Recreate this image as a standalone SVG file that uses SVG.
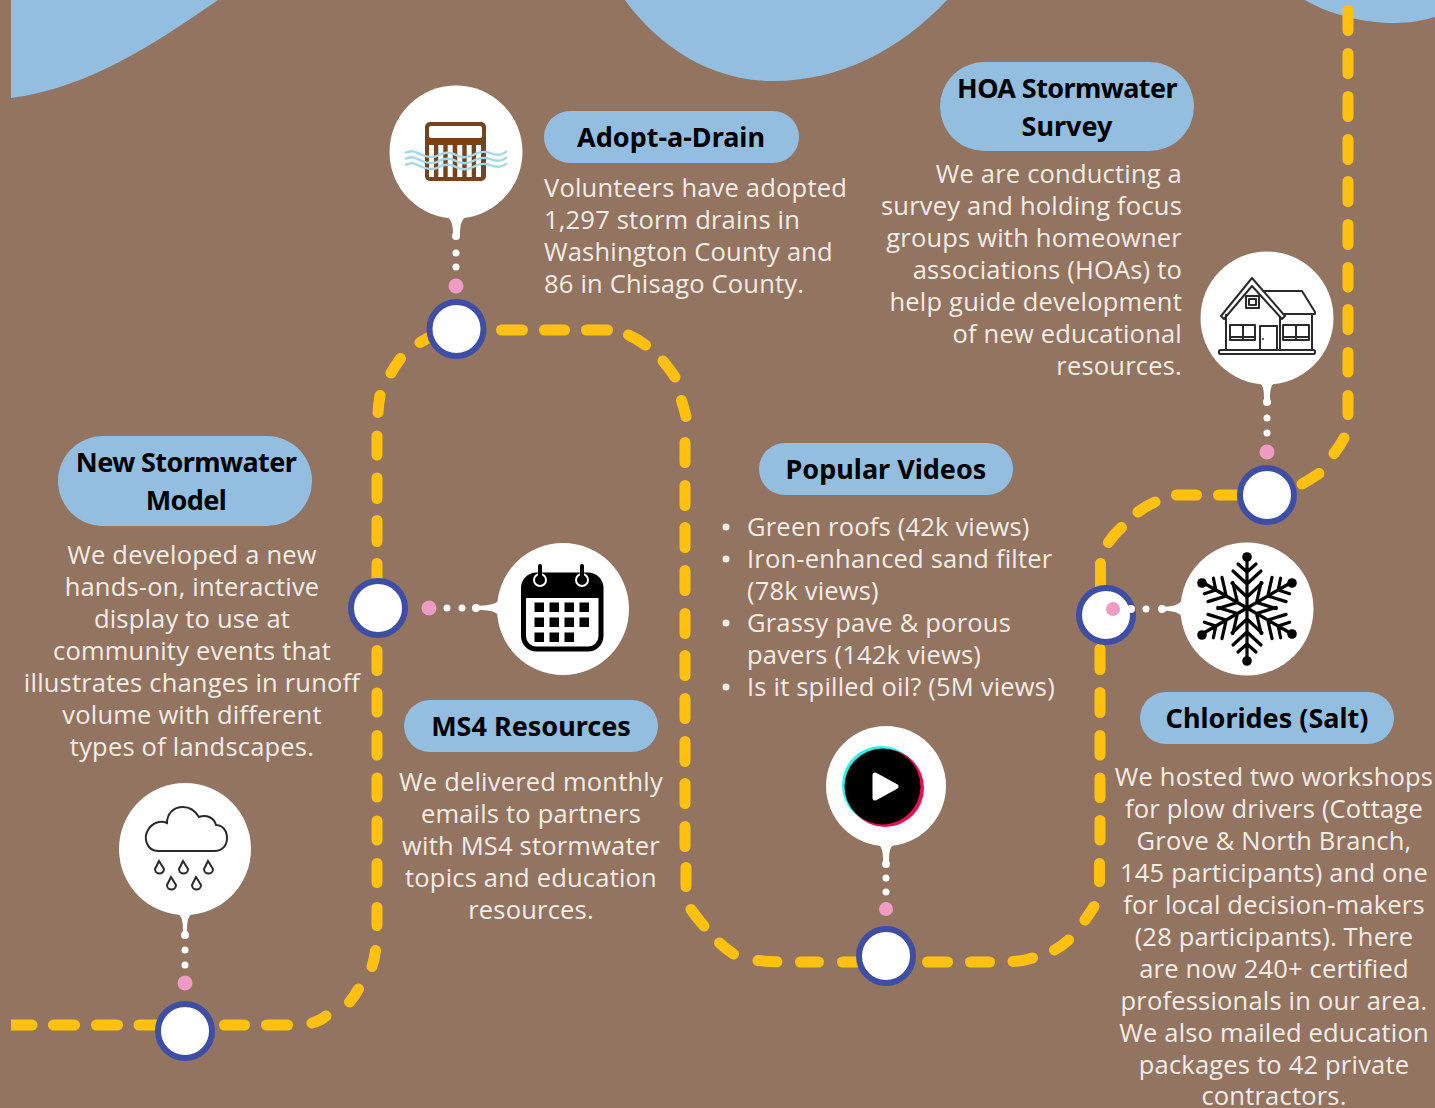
<svg xmlns="http://www.w3.org/2000/svg" width="1435" height="1108" viewBox="0 0 1435 1108">
<defs><style>
.b{fill:#fff}.t{font-family:"Open Sans","Noto Sans",sans-serif;font-size:25.5px;letter-spacing:.2px;fill:#f3ece6}
.h{font-family:"Noto Sans","Open Sans",sans-serif;font-size:27px;font-weight:700;fill:#000;text-anchor:middle}
.p{fill:#94bedf}.m{text-anchor:middle}.e{text-anchor:end}
.ring{fill:#fff;stroke:#3f4ea5;stroke-width:6}.pk{fill:#ee9cc6}.w{fill:#fff}
.ic{fill:none;stroke:#2a2a2a;stroke-width:2}
.sq{letter-spacing:-.6px}
</style>
<clipPath id="c"><rect x="11" y="0" width="1424" height="1108"/></clipPath>
<g id="arm"><path d="M1247 608V558M1247 572l-9-8M1247 572l9-8M1247 584l-14-13M1247 584l14-13M1247 597l-15-14M1247 597l15-14"/></g>
</defs>
<rect width="1435" height="1108" fill="#937460"/>
<g id="water" class="p">
<path d="M11 0H218C160 40 90 88 11 98Z"/>
<path d="M625 0C650 35 700 81 773 81C840 81 900 50 947 0Z"/>
<path d="M1305 0C1330 15 1365 23 1395 23C1410 23 1425 20 1435 17V0Z"/>
</g>
<g id="connectors" clip-path="url(#c)">
<path fill="none" stroke="#fec110" stroke-width="11" stroke-linecap="round" d="M5 1025H32M53.500 1025H74.500M96.500 1025H117.500M139 1025H160M224.500 1025H244.500M266.500 1025H287.500M312 1023Q320 1021 326 1016M349.500 1002Q354 997 358.500 989M372 966.500Q374.500 959 375.500 950.500
M377 925.500V907.500M377 882.500V863.500M377 840V821M377 797V778M377 755V735.500M377 712V693M377 670.500V650.500M377 584V563.500M377 541.500V520.500M377 498.500V478M377 455V436
M378 412.500Q378.500 404 380 395.500M391 373Q395 366 400.500 358.500M420 342.500Q426 339 432 336M501.500 330H522.500M544.500 330H564.500M586.500 330H607.500M628.500 335Q637 339 645.500 345M663 361Q669 368 675 377M681.500 400.500Q684 408 686 416.500
M685 442.500V462.500M685 485.500V505.500M685 527.500V547.500M685 570.500V590.500M685 613.500V633.500M685 655.500V675.500M685 698.500V718.500M685 741.500V761.500M685 783.500V803.500M685 826.500V846.500M686 867.500V886.500
M691 909.500Q697 918 704 926M719.500 943Q726 949 733.500 954M758 960.500Q767 961.500 777 961.700M800.500 962H818.500M842.500 962H860M927.500 962H947.500M970.500 962H989.500M1013 961.500Q1023 961 1032.500 958M1054.500 950Q1062 946 1068.500 940M1085 920Q1090 913 1094 906.500M1099.500 881.500V863.500
M1100 840V820.500M1100 797.500V778M1100 755V735.500M1100 712.500V692.500M1100 669.500V649M1100.500 590V563.500M1108.500 542.500Q1114 534 1121.500 527.500M1138 512Q1146 506 1155 502M1176.500 495H1196.500M1218.500 495H1240M1302 484Q1311 479 1319 473.500M1334 453.500Q1340 446 1344 438
M1348 414.500V395.500M1348 372V352.500M1348 329.500V309.500M1348 287V267.500M1348 244.500V224.500M1348 201.500V181.500M1348 159.500V139.500M1348 116.500V96.500M1348 73.500V53.500M1348 30.500V10.500"/>
</g>
<g id="node-model">
<circle class="ring" cx="185" cy="1031" r="27"/>
<circle class="b" cx="185" cy="849" r="66"/>
<path class="b" d="M174 912c8 2 9 8 9 20h4c0-12 1-18 9-20Z"/>
<circle class="w" cx="185" cy="935" r="4"/><circle class="w" cx="185" cy="950" r="3.500"/><circle class="w" cx="185" cy="965" r="3.500"/><circle class="pk" cx="185" cy="983" r="7.500"/>
<path class="ic" d="M158 851H214C223 851 227 845 227 838C227 830 222 825 216 825C214 818 207 814 199 817C194 809 188 807 183 807C173 807 167 814 167 823C160 820 152 823 148 830C143 838 147 851 158 851Z"/>
<g class="ic"><path d="M159 861l-4 8a4.500 4.500 0 0 0 9 0Z"/><path d="M183 861l-4 8a4.500 4.500 0 0 0 9 0Z"/><path d="M208 861l-4 8a4.500 4.500 0 0 0 9 0Z"/><path d="M171 877l-4 8a4.500 4.500 0 0 0 9 0Z"/><path d="M196 877l-4 8a4.500 4.500 0 0 0 9 0Z"/></g>
<rect class="p" x="58" y="436" width="254" height="90" rx="45"/>
<text class="h sq"><tspan x="186" y="472">New Stormwater</tspan><tspan x="186" y="510">Model</tspan></text>
<text class="t m"><tspan x="192" y="564">We developed a new</tspan><tspan x="192" y="596">hands-on, interactive</tspan><tspan x="192" y="628">display to use at</tspan><tspan x="192" y="660">community events that</tspan><tspan x="192" y="692">illustrates changes in runoff</tspan><tspan x="192" y="724">volume with different</tspan><tspan x="192" y="756">types of landscapes.</tspan></text>
</g>
<g id="node-ms4">
<circle class="ring" cx="378" cy="608" r="27"/>
<circle class="b" cx="563" cy="609" r="66"/>
<path class="b" d="M501 595c-2 9-8 10-25 11v4c17 0 23 2 25 11Z"/>
<circle class="w" cx="476" cy="608" r="4"/><circle class="w" cx="462" cy="608" r="3.500"/><circle class="w" cx="447" cy="608" r="3.500"/><circle class="pk" cx="429" cy="608" r="7.500"/>
<rect x="523.500" y="575" width="77.500" height="74" rx="13" fill="#fff" stroke="#000" stroke-width="5"/>
<path d="M523.500 597v-9a13 13 0 0 1 13-13h51.500a13 13 0 0 1 13 13v9Z" fill="#000" stroke="#000" stroke-width="2"/>
<g fill="none" stroke="#fff" stroke-width="2"><circle cx="540" cy="580" r="6"/><circle cx="582" cy="580" r="6"/></g>
<path d="M540 566v15M582 566v15" stroke="#000" stroke-width="4" stroke-linecap="round"/>
<g fill="#000"><rect x="534.500" y="602.500" width="9.500" height="9.500"/><rect x="549.500" y="602.500" width="9.500" height="9.500"/><rect x="564.500" y="602.500" width="9.500" height="9.500"/><rect x="579.500" y="602.500" width="9.500" height="9.500"/><rect x="534.500" y="617.500" width="9.500" height="9.500"/><rect x="549.500" y="617.500" width="9.500" height="9.500"/><rect x="564.500" y="617.500" width="9.500" height="9.500"/><rect x="579.500" y="617.500" width="9.500" height="9.500"/><rect x="534.500" y="632.500" width="9.500" height="9.500"/><rect x="549.500" y="632.500" width="9.500" height="9.500"/><rect x="564.500" y="632.500" width="9.500" height="9.500"/></g>
<rect class="p" x="404" y="700" width="254" height="52" rx="26"/>
<text class="h" x="531" y="736">MS4 Resources</text>
<text class="t m"><tspan x="531" y="791">We delivered monthly</tspan><tspan x="531" y="823">emails to partners</tspan><tspan x="531" y="855">with MS4 stormwater</tspan><tspan x="531" y="887">topics and education</tspan><tspan x="531" y="919">resources.</tspan></text>
</g>
<g id="node-drain">
<circle class="ring" cx="456.500" cy="329" r="27"/>
<circle class="b" cx="456" cy="152" r="66.500"/>
<path class="b" d="M443 215c9 3 10 9 10 21h7c0-12 1-18 10-21Z"/>
<circle class="w" cx="456" cy="236" r="4"/><circle class="w" cx="456" cy="253" r="3.500"/><circle class="w" cx="456" cy="267" r="3.500"/><circle class="pk" cx="456" cy="286" r="7.500"/>
<rect x="425" y="122" width="61" height="59" rx="5" fill="#77431a"/>
<g fill="#fff"><rect x="429" y="126" width="53" height="12" rx="2"/><rect x="429" y="145" width="5" height="32"/><rect x="438.300" y="145" width="5" height="32"/><rect x="447.700" y="145" width="5" height="32"/><rect x="457.300" y="145" width="5" height="32"/><rect x="466.700" y="145" width="5" height="32"/><rect x="476" y="145" width="5" height="32"/></g>
<g fill="none" stroke="#a5d8e8" stroke-width="2.400"><path d="M405 153c8-4 12 0 17 2s12 3 17 0 12-3 17 0 12 3 17 0 12-4 17-2 12 3 17-2"/><path d="M405 159c8-4 12 0 17 2s12 3 17 0 12-3 17 0 12 3 17 0 12-4 17-2 12 3 17-2"/><path d="M405 165c8-4 12 0 17 2s12 3 17 0 12-3 17 0 12 3 17 0 12-4 17-2 12 3 17-2"/></g>
<rect class="p" x="544" y="111" width="255" height="52" rx="26"/>
<text class="h" x="671" y="147">Adopt-a-Drain</text>
<text class="t"><tspan x="544" y="197">Volunteers have adopted</tspan><tspan x="544" y="229">1,297 storm drains in</tspan><tspan x="544" y="261">Washington County and</tspan><tspan x="544" y="293">86 in Chisago County.</tspan></text>
</g>
<g id="node-videos">
<circle class="ring" cx="886" cy="956" r="27"/>
<circle class="b" cx="886" cy="786" r="60"/>
<path class="b" d="M875 843c8 3 8 8 8 22h6c0-14 0-19 8-22Z"/>
<circle class="w" cx="886" cy="864" r="4"/><circle class="w" cx="886" cy="878" r="3.500"/><circle class="w" cx="886" cy="892" r="3.500"/><circle class="pk" cx="886" cy="909" r="7"/>
<circle cx="881" cy="785" r="39" fill="#25f4ee"/><circle cx="885" cy="788" r="39" fill="#e8104f"/><circle cx="882.500" cy="786.500" r="38" fill="#000"/>
<path d="M875 775l21 11.500-21 11.500Z" fill="#fff" stroke="#fff" stroke-width="5" stroke-linejoin="round"/>
<rect class="p" x="759" y="443" width="254" height="52" rx="26"/>
<text class="h" x="886" y="479">Popular Videos</text>
<text class="t"><tspan x="747" y="536">Green roofs (42k views)</tspan><tspan x="747" y="568">Iron-enhanced sand filter</tspan><tspan x="747" y="600">(78k views)</tspan><tspan x="747" y="632">Grassy pave &amp; porous</tspan><tspan x="747" y="664">pavers (142k views)</tspan><tspan x="747" y="696">Is it spilled oil? (5M views)</tspan></text>
<g class="t"><circle cx="726" cy="527" r="3.500"/><circle cx="726" cy="559" r="3.500"/><circle cx="726" cy="623" r="3.500"/><circle cx="726" cy="687" r="3.500"/></g>
</g>
<g id="node-salt">
<circle class="ring" cx="1106" cy="615" r="27"/>
<circle class="pk" cx="1113" cy="609" r="7"/>
<circle class="b" cx="1247" cy="609" r="66.500"/>
<path class="b" d="M1184 595c-2 9-8 11-20 12v4c12 0 18 2 20 11Z"/>
<circle class="w" cx="1131" cy="609" r="4"/><circle class="w" cx="1146" cy="609" r="3.500"/><circle class="w" cx="1162" cy="609" r="4"/>
<g id="flake" stroke="#000" stroke-width="3.200" fill="none" stroke-linecap="round">
<use href="#arm"/>
<use href="#arm" transform="rotate(60 1247 608)"/>
<use href="#arm" transform="rotate(120 1247 608)"/>
<use href="#arm" transform="rotate(180 1247 608)"/>
<use href="#arm" transform="rotate(240 1247 608)"/>
<use href="#arm" transform="rotate(300 1247 608)"/>
</g>
<g fill="#000"><circle cx="1247" cy="557" r="4.800"/><circle cx="1247" cy="661" r="4.800"/><circle cx="1202" cy="583" r="4.800"/><circle cx="1292" cy="583" r="4.800"/><circle cx="1202" cy="635" r="4.800"/><circle cx="1292" cy="634" r="4.800"/></g>
<rect class="p" x="1140" y="692" width="254" height="52" rx="26"/>
<text class="h" x="1267" y="728">Chlorides (Salt)</text>
<text class="t m"><tspan x="1274" y="786">We hosted two workshops</tspan><tspan x="1274" y="818">for plow drivers (Cottage</tspan><tspan x="1274" y="850">Grove &amp; North Branch,</tspan><tspan x="1274" y="882">145 participants) and one</tspan><tspan x="1274" y="914">for local decision-makers</tspan><tspan x="1274" y="946">(28 participants). There</tspan><tspan x="1274" y="978">are now 240+ certified</tspan><tspan x="1274" y="1010">professionals in our area.</tspan><tspan x="1274" y="1042">We also mailed education</tspan><tspan x="1274" y="1074">packages to 42 private</tspan><tspan x="1274" y="1105">contractors.</tspan></text>
</g>
<g id="node-hoa">
<circle class="ring" cx="1267" cy="495" r="27"/>
<circle class="b" cx="1267" cy="318" r="66.500"/>
<path class="b" d="M1256 381c8 3 8 8 8 22h6c0-14 0-19 8-22Z"/>
<circle class="w" cx="1267" cy="402" r="4"/><circle class="w" cx="1267" cy="418" r="3.500"/><circle class="w" cx="1267" cy="433" r="3.500"/><circle class="pk" cx="1267" cy="452" r="7.500"/>
<g class="ic" stroke-linejoin="round"><path d="M1221 316l31-38 33 38-3 3-30-33-28 33Z"/><path d="M1264 291h38l13 21v2h-31"/><path d="M1226 314v36M1280 317v33M1312 314v36"/><rect x="1230" y="325" width="25" height="15"/><path d="M1243 325v15M1230 337h25"/><rect x="1283" y="325" width="26" height="15"/><path d="M1296 325v15M1283 337h26"/><rect x="1260" y="326" width="17" height="24"/><rect x="1246" y="296" width="13" height="12"/><rect x="1249" y="299" width="7" height="6"/><rect x="1219" y="350" width="96" height="4" rx="1.500"/></g>
<circle cx="1263" cy="339" r="1" fill="#2a2a2a"/>
<rect class="p" x="940" y="62" width="254" height="89" rx="44.500"/>
<text class="h"><tspan class="sq" x="1067" y="98">HOA Stormwater</tspan><tspan x="1067" y="136">Survey</tspan></text>
<text class="t e"><tspan x="1182" y="183">We are conducting a</tspan><tspan x="1182" y="215">survey and holding focus</tspan><tspan x="1182" y="247">groups with homeowner</tspan><tspan x="1182" y="279">associations (HOAs) to</tspan><tspan x="1182" y="311">help guide development</tspan><tspan x="1182" y="343">of new educational</tspan><tspan x="1182" y="375">resources.</tspan></text>
</g>
</svg>
